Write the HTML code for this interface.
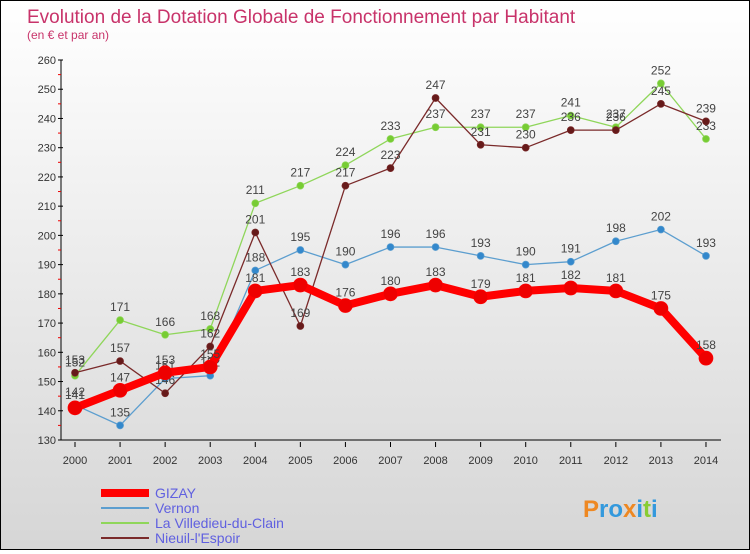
<!DOCTYPE html>
<html><head><meta charset="utf-8"><style>
body{margin:0;width:750px;height:550px;overflow:hidden;font-family:"Liberation Sans",sans-serif}
#wrap{position:relative;width:748px;height:548px;border:1px solid #000;background:linear-gradient(#fff,#d6d6d6)}
</style></head><body>
<div id="wrap">
<svg id="c" width="748" height="548" xmlns="http://www.w3.org/2000/svg"></svg>
</div>
<script>
const years=["2000","2001","2002","2003","2004","2005","2006","2007","2008","2009","2010","2011","2012","2013","2014"];
const gizay=[141,147,153,155,181,183,176,180,183,179,181,182,181,175,158];
const vernon=[142,135,151,152,188,195,190,196,196,193,190,191,198,202,193];
const villedieu=[152,171,166,168,211,217,224,233,237,237,237,241,237,252,233];
const nieuil=[153,157,146,162,201,169,217,223,247,231,230,236,236,245,239];
const yTicks=[130,140,150,160,170,180,190,200,210,220,230,240,250,260];
const NS="http://www.w3.org/2000/svg";
const svg=document.getElementById('c');
function el(t,a,p){const e=document.createElementNS(NS,t);for(const k in a)e.setAttribute(k,a[k]);(p||svg).appendChild(e);return e;}
const x=i=>74+i*45.07;
const y=v=>439-(v-130)*(380/130);
let t=el('text',{x:26,y:22,fill:'#c8336a','font-size':19});t.textContent='Evolution de la Dotation Globale de Fonctionnement par Habitant';

t=el('text',{x:26,y:38,fill:'#c8336a','font-size':12});t.textContent='(en € et par an)';

let ax=el('line',{x1:60,y1:y(260),x2:60,y2:y(130),stroke:'#000'});

ax=el('line',{x1:60,y1:y(130),x2:720,y2:y(130),stroke:'#000'});

yTicks.forEach(v=>{el('line',{x1:57,y1:y(v),x2:62,y2:y(v),stroke:'#000'});
 if(v<260)el('line',{x1:57,y1:y(v+5),x2:60,y2:y(v+5),stroke:'#e00'});
 const l=el('text',{x:55,y:y(v)+4,'text-anchor':'end','font-size':11,fill:'#333'});l.textContent=v;
 });
years.forEach((yr,i)=>{el('line',{x1:x(i),y1:y(130)+2,x2:x(i),y2:y(130)+7,stroke:'#000'});
 const l=el('text',{x:x(i),y:y(130)+24,'text-anchor':'middle','font-size':11,fill:'#333'});l.textContent=yr;
 });
function series(d,col,dot,w,r,name){
 const g=el('g',{});
 el('polyline',{points:d.map((v,i)=>x(i)+','+y(v)).join(' '),fill:'none',stroke:col,'stroke-width':w,'stroke-linejoin':'round'},g);
 d.forEach((v,i)=>{const c=el('circle',{cx:x(i),cy:y(v),r:r,fill:dot,stroke:col,'stroke-width':0.7},g);
  
  const l=el('text',{x:x(i),y:y(v)-9,'text-anchor':'middle','font-size':12,fill:'#444'},g);l.textContent=v;});
}
series(villedieu,'#8fd65a','#77cc33',1.3,3.5,'series-villedieu');
series(vernon,'#5c9ecf','#3388cc',1.3,3.5,'series-vernon');
series(nieuil,'#7a2a2a','#661a1a',1.3,3.5,'series-nieuil');
series(gizay,'#ff0000','#ee0000',8,7,'series-gizay');
const leg=[['GIZAY','#ff0000',8],['Vernon','#5c9ecf',2],['La Villedieu-du-Clain','#8fd65a',2],['Nieuil-l\'Espoir','#7a2a2a',2]];
leg.forEach((L,i)=>{const g=el('g',{});
 const yy=492+i*15;el('line',{x1:100,y1:yy,x2:148,y2:yy,stroke:L[1],'stroke-width':L[2]},g);
 const tx=el('text',{x:154,y:yy+5,'font-size':14,fill:'#6060e0'},g);tx.textContent=L[0];});
const lg=el('text',{x:582,y:516,'font-size':24,'font-weight':'bold',fill:'#3399dd'});

lg.innerHTML='<tspan fill="#ee8822">P</tspan>ro<tspan fill="#ee8822">x</tspan>i<tspan fill="#88cc33">t</tspan>i';
</script>
</body></html>
